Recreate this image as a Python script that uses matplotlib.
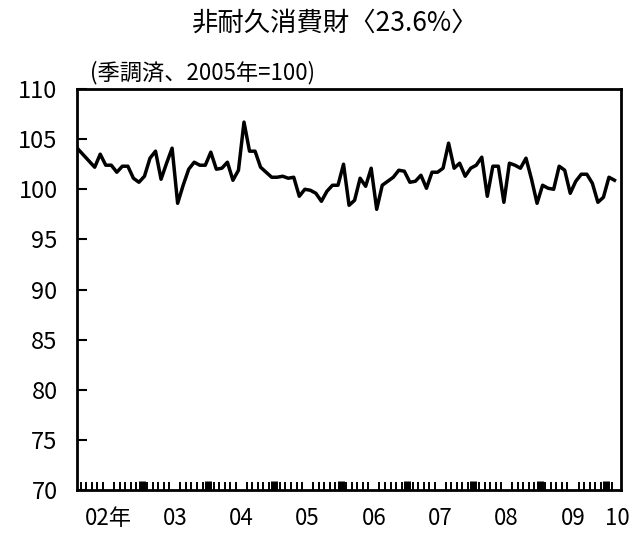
import numpy as np
import matplotlib
matplotlib.use('Agg')
from matplotlib import pyplot as plt

plt.rcParams['font.family'] = ['Noto Sans CJK JP', 'DejaVu Sans']

# monthly index, Jan 2002 .. Feb 2010 (seasonally adjusted, 2005=100)
values = [
    104.0, 103.4, 102.8, 102.2, 103.5, 102.4, 102.4, 101.7, 102.3, 102.3, 101.1, 100.7,  # 2002
    101.3, 103.1, 103.8, 101.0, 102.6, 104.1, 98.6, 100.4, 102.0, 102.7, 102.4, 102.4,   # 2003
    103.7, 102.0, 102.1, 102.7, 100.9, 101.9, 106.7, 103.8, 103.8, 102.2, 101.7, 101.2,  # 2004
    101.2, 101.3, 101.1, 101.2, 99.3, 100.0, 99.9, 99.6, 98.8, 99.8, 100.4, 100.4,       # 2005
    102.5, 98.4, 98.9, 101.1, 100.3, 102.1, 98.0, 100.4, 100.8, 101.2, 101.9, 101.8,     # 2006
    100.7, 100.8, 101.4, 100.1, 101.7, 101.7, 102.1, 104.6, 102.1, 102.6, 101.3, 102.1,  # 2007
    102.4, 103.2, 99.3, 102.3, 102.3, 98.7, 102.6, 102.4, 102.1, 103.1, 101.0, 98.6,     # 2008
    100.4, 100.1, 100.0, 102.3, 101.9, 99.6, 100.8, 101.5, 101.5, 100.6, 98.7, 99.2,     # 2009
    101.2, 100.9,                                                                        # 2010
]
year_labels = ['02年', '03', '04', '05', '06', '07', '08', '09', '10']
yticks = [70, 75, 80, 85, 90, 95, 100, 105, 110]

x = np.arange(len(values))

fig = plt.figure(figsize=(6.39, 5.35), dpi=100)
ax = fig.add_axes([0.1205, 0.0841, 0.8515, 0.7495])

ax.plot(x, values, color='black', lw=2.5)

ax.set_ylim(70, 110)
ax.set_xlim(-0.2, 98.2)
ax.set_yticks(yticks)
ax.tick_params(axis='y', direction='in', length=7, width=1.5, pad=14, labelsize=17)

# month ticks along the bottom, bold ones at year boundaries
month_pos = np.arange(len(values)) - 0.5
ax.set_xticks(month_pos[1:], minor=True)
ax.tick_params(axis='x', which='minor', direction='in', length=6, width=1.4)
year_pos = [p for p in month_pos[1:] if (p + 0.5) % 12 == 0]
for p in year_pos:
    ax.plot([p, p], [70, 70.9], color='black', lw=5, solid_capstyle='butt')

# year labels centred on each year
label_pos = [5.5 + 12 * k for k in range(8)] + [97.5]
ax.set_xticks(label_pos)
ax.set_xticklabels(year_labels)
ax.tick_params(axis='x', which='major', length=0, pad=12, labelsize=16)

for s in ax.spines.values():
    s.set_linewidth(2)

fig.text(0.524, 0.957, '非耐久消費財〈23.6%〉', ha='center', va='center', fontsize=19)
fig.text(0.141, 0.864, '(季調済、2005年=100)', ha='left', va='center', fontsize=16)

fig.savefig('out.png', dpi=100)
